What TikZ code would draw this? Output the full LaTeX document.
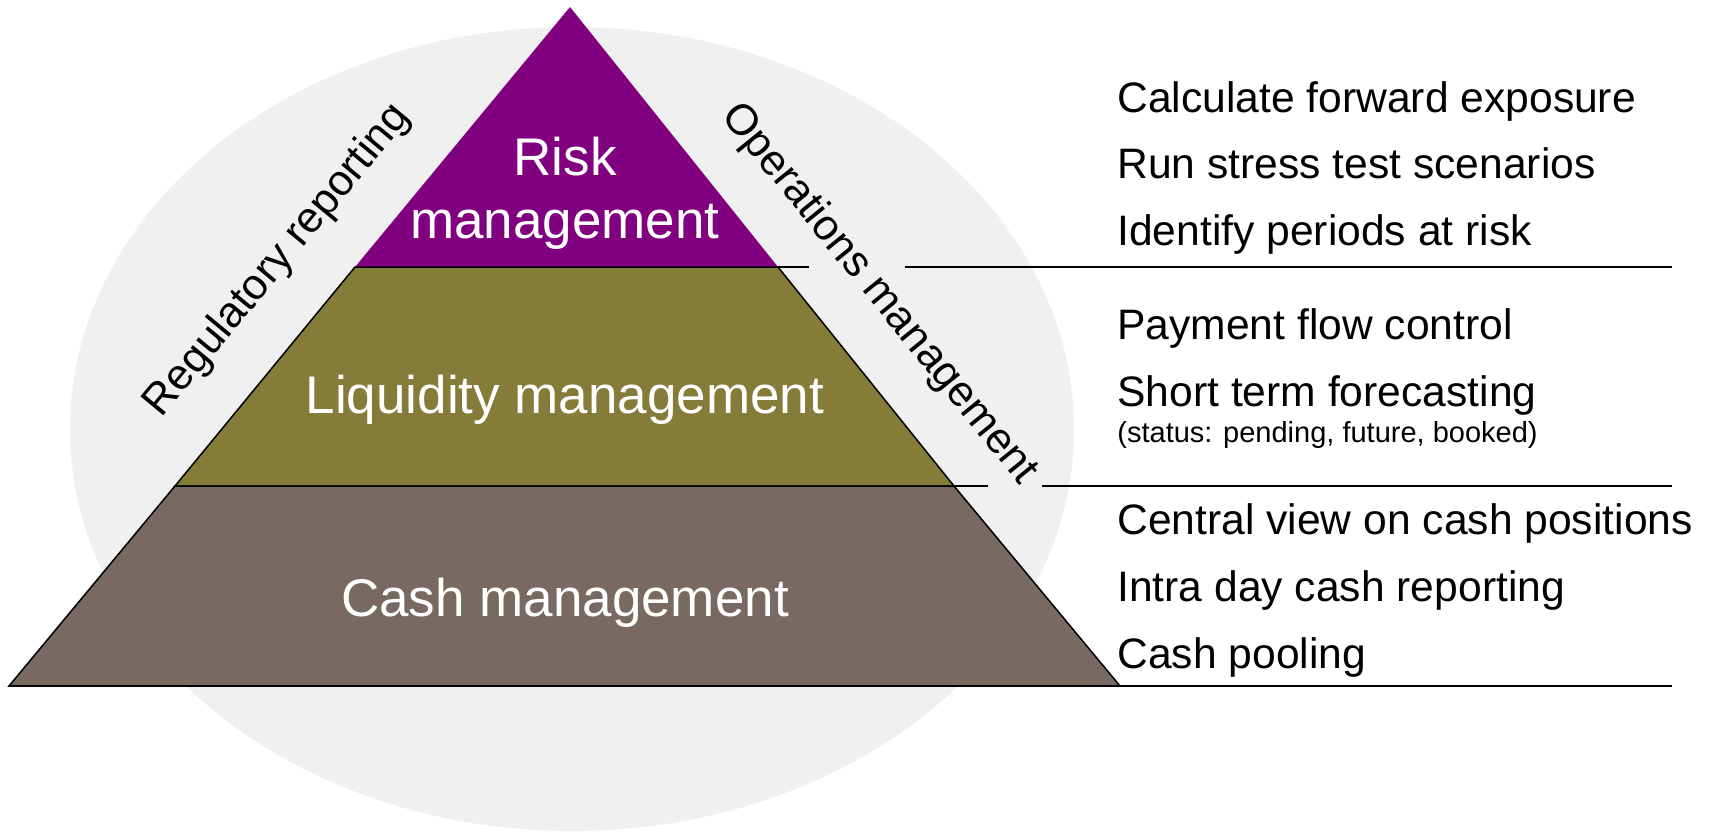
\documentclass[tikz,border=0pt]{standalone}
\usepackage{fontspec}
\setmainfont{Liberation Sans}
\usetikzlibrary{positioning}

\definecolor{riskpurple}{HTML}{800080}
\definecolor{liqolive}{HTML}{847C38}
\definecolor{cashgrey}{HTML}{786A62}
\definecolor{backgrey}{HTML}{F0F0F0}

\begin{document}
\begin{tikzpicture}[
  x=0.5pt, y=-0.5pt,
  layer/.style={draw=black,line width=0.75pt,line join=miter},
  rule/.style={draw=black,line width=0.65pt},
  band/.style={text=white,font=\fontsize{26.5}{31.5}\selectfont,align=center,inner sep=0pt},
  side/.style={font=\fontsize{21.6}{26}\selectfont,inner sep=0pt},
  task/.style={font=\fontsize{21.3}{26}\selectfont,anchor=base west,inner sep=0pt},
  note/.style={font=\fontsize{14.5}{17}\selectfont,anchor=base west,inner sep=0pt}
]
\useasboundingbox (0,0) rectangle (1711,831);

% background
\fill[backgrey] (572,429) ellipse [x radius=502, y radius=402];

% pyramid corners
\coordinate (top) at (570,7);
\coordinate (rl) at (355,267);
\coordinate (rr) at (778,267);
\coordinate (ll) at (175,486);
\coordinate (lr) at (954,486);
\coordinate (cl) at (9,686);
\coordinate (cr) at (1120,686);

\fill[riskpurple] (top) -- (rl) -- (rr) -- cycle;
\draw[layer,fill=liqolive] (rl) -- (ll) -- (lr) -- (rr) -- cycle;
\draw[layer,fill=cashgrey] (ll) -- (cl) -- (cr) -- (lr) -- cycle;

% rules on the right
\coordinate (r1a) at (809,267);
\coordinate (r1b) at (905,267);
\coordinate (r1c) at (1672,267);
\coordinate (r2a) at (988,486);
\coordinate (r2b) at (1042,486);
\coordinate (r2c) at (1672,486);
\coordinate (r3c) at (1672,686);

\draw[rule] (rr) -- (r1a);
\draw[rule] (r1b) -- (r1c);
\draw[rule] (lr) -- (r2a);
\draw[rule] (r2b) -- (r2c);
\draw[draw=black,line width=1pt] (cl) -- (r3c);

% layer labels
\node[band] (risk) at (565,193) {Risk\\management};
\node[band,anchor=base] (liq) at (565,413) {Liquidity management};
\node[band,anchor=base] (cash) at (565,616) {Cash management};

% side labels
\node[side,rotate=50.4] (regrep) at (278,261) {Regulatory reporting};
\node[side,rotate=-51] (opsmgmt) at (879,294) {Operations management};

% tasks
\node[task] (t1) at (1117,112) {Calculate forward exposure};
\node[task] (t2) at (1117,178) {Run stress test scenarios};
\node[task] (t3) at (1117,245) {Identify periods at risk};
\node[task] (t4) at (1117,339) {Payment flow control};
\node[task] (t5) at (1117,406) {Short term forecasting};
\node[note] (t5n) at (1117,442) {(status: pending, future, booked)};
\node[task] (t6) at (1117,534) {Central view on cash positions};
\node[task] (t7) at (1117,601) {Intra day cash reporting};
\node[task] (t8) at (1117,668) {Cash pooling};
\end{tikzpicture}
\end{document}
